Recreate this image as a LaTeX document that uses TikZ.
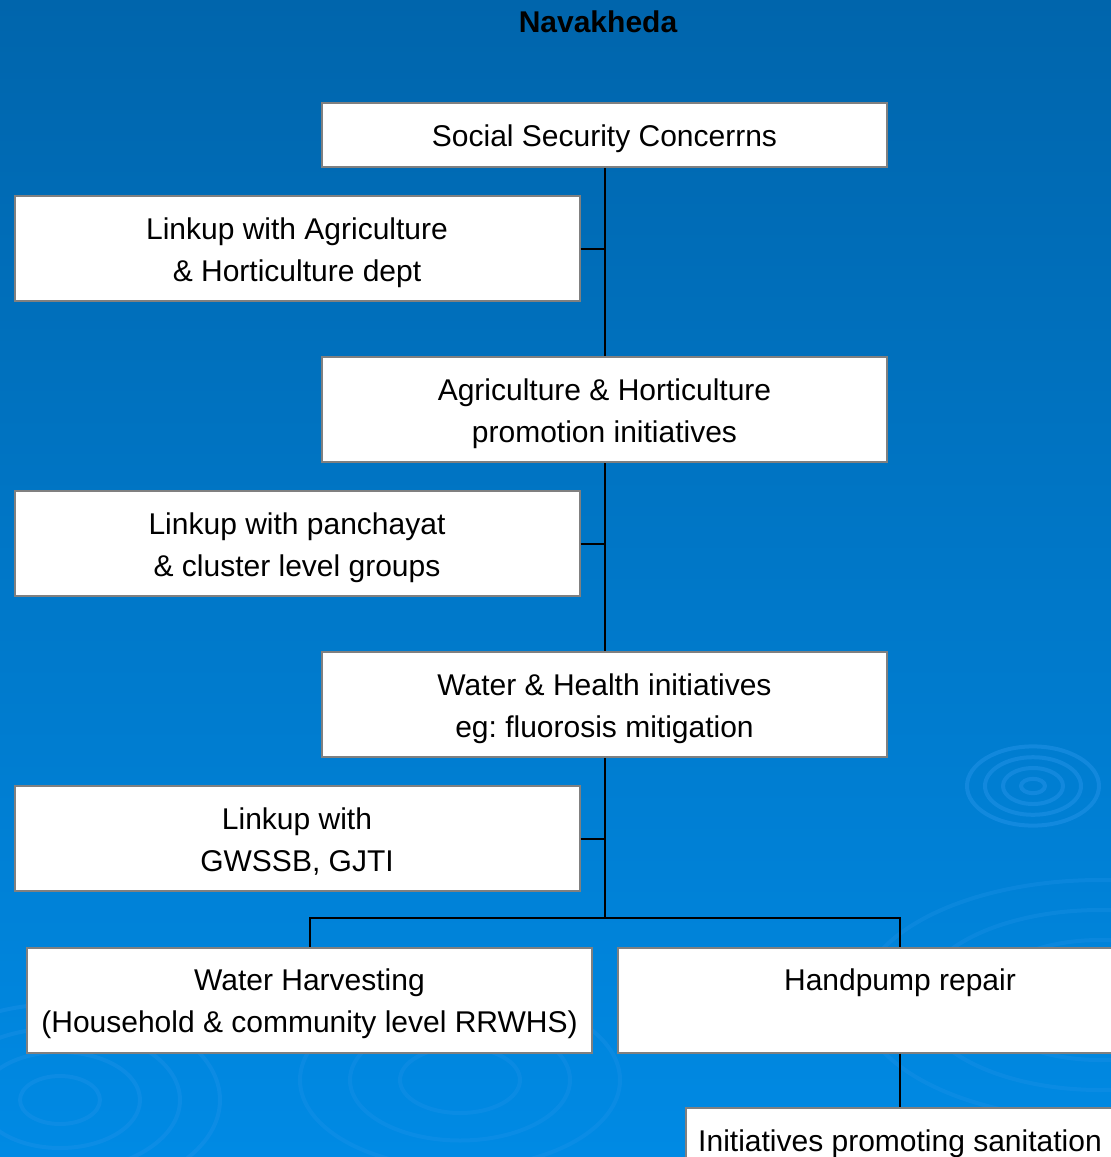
\documentclass[tikz,border=0pt]{standalone}
\usepackage{fontspec}
\setmainfont{Liberation Sans}
\definecolor{bgtop}{RGB}{0,101,172}
\definecolor{bgbot}{RGB}{0,138,228}
\definecolor{ripple}{RGB}{40,150,235}
\definecolor{boxgray}{RGB}{128,128,128}
\newcommand\bs{\rule[-9pt]{0pt}{41pt}}
\begin{document}
\frenchspacing
\begin{tikzpicture}[x=1pt,y=-1pt,
  box/.style={draw=boxgray, line width=2pt, fill=white, minimum width=565pt, inner sep=0pt, align=center, font=\fontsize{30}{42}\selectfont\frenchspacing},
  tall/.style={box, minimum height=105pt},
  short/.style={box, minimum height=64pt},
  conn/.style={draw=black, line width=2pt},
  ring/.style={draw=ripple, line width=4pt, opacity=0.45}]
\useasboundingbox (0,0) rectangle (1111,1157);
\clip (0,0) rectangle (1111,1157);
\shade[top color=bgtop, bottom color=bgbot] (0,0) rectangle (1111,1157);
% ripples
\foreach \r in {12,30,48,66}{\draw[ring] (1033,786) ellipse ({\r*1.0pt} and {\r*0.6pt});}
\foreach \r in {40,80,120,160}{\draw[ring, opacity=0.3] (60,1100) ellipse ({\r*1.0pt} and {\r*0.6pt});}
\foreach \r in {60,110,160}{\draw[ring, opacity=0.25] (460,1080) ellipse ({\r*1.0pt} and {\r*0.55pt});}
\foreach \r in {120,180,240}{\draw[ring, opacity=0.25] (1100,1000) ellipse ({\r*1.0pt} and {\r*0.5pt});}
% title
\node[font=\fontsize{30}{36}\selectfont\bfseries, text=black] (title) at (598,22) {Navakheda};
% boxes
\node[short] (soc)   at (604.5,135)  {\bs Social Security Concerrns\bs};
\node[tall]  (link1) at (297,248.5)  {\bs Linkup with Agriculture\\\& Horticulture dept\bs};
\node[tall]  (agri)  at (604.5,409.5){\bs Agriculture \& Horticulture\\promotion initiatives\bs};
\node[tall]  (link2) at (297,543.5)  {\bs Linkup with panchayat\\\& cluster level groups\bs};
\node[tall]  (wat)   at (604.5,704.5){\bs Water \& Health initiatives\\eg: fluorosis mitigation\bs};
\node[tall]  (link3) at (297,838.5)  {\bs Linkup with\\GWSSB, GJTI\bs};
\node[tall]  (harv)  at (309.5,1000) {\bs Water Harvesting\\(Household \& community level RRWHS)\bs};
\node[tall]  (hand)  at (900,1000)   {\bs Handpump repair\\\bs};
\node[short, minimum width=428pt] (san) at (900,1140) {\bs Initiatives promoting sanitation\bs};
\coordinate (split) at (604.5,918);
% connectors
\draw[conn] (soc.south) -- (agri.north);
\draw[conn] (agri.south) -- (wat.north);
\draw[conn] (wat.south) -- (split);
\draw[conn] (link1.east) -- (link1.east -| soc.south);
\draw[conn] (link2.east) -- (link2.east -| soc.south);
\draw[conn] (link3.east) -- (link3.east -| soc.south);
\draw[conn] (split) -| (harv.north);
\draw[conn] (split) -| (hand.north);
\draw[conn] (hand.south) -- (san.north);
\end{tikzpicture}
\end{document}
